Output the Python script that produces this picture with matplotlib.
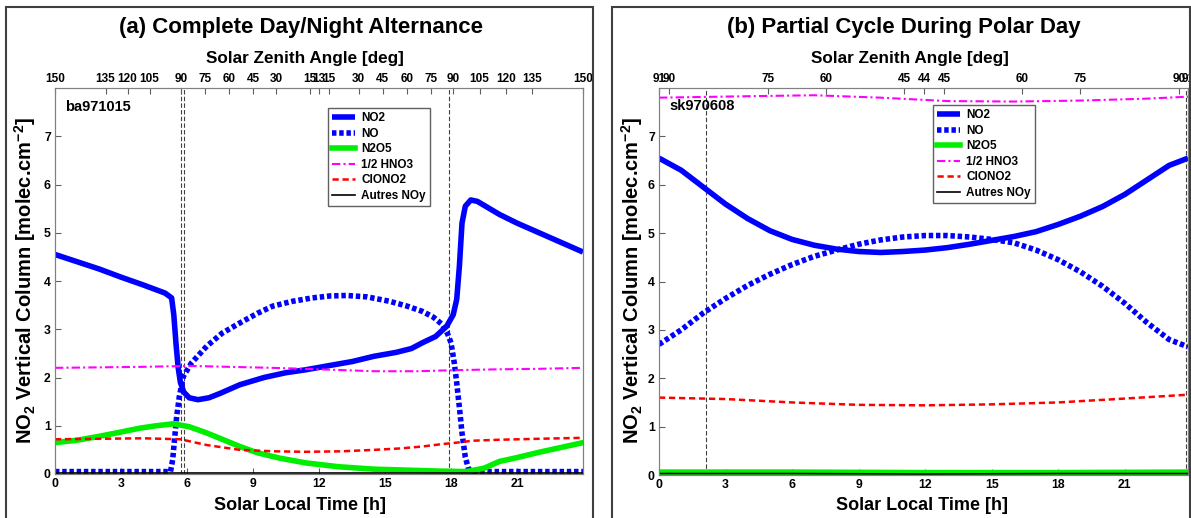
import numpy as np
import matplotlib.pyplot as plt
from matplotlib.patches import Rectangle

plt.rcParams['font.family'] = ['Liberation Sans', 'DejaVu Sans']
plt.rcParams['font.weight'] = 'bold'
plt.rcParams['mathtext.fontset'] = 'custom'
plt.rcParams['mathtext.rm'] = 'Liberation Sans:bold'
plt.rcParams['mathtext.bf'] = 'Liberation Sans:bold'
plt.rcParams['mathtext.default'] = 'bf'

# ---- panel (a) ba971015 : values ----
no2_a_t = [0, 1, 2, 3, 4, 5, 5.3, 5.4, 5.5, 5.6, 5.7, 5.85, 6.1, 6.5, 7.0, 7.5, 8.4, 9.5, 10.5,
           11.4, 12.5, 13.5, 14.5, 15.5, 16.2, 16.7, 17.3, 17.8, 18.1, 18.26, 18.38, 18.5,
           18.65, 18.9, 19.2, 20.2, 21, 22, 23, 24]
no2_a = [4.55, 4.4, 4.25, 4.08, 3.92, 3.75, 3.65, 3.3, 2.7, 2.2, 1.9, 1.7, 1.58, 1.54, 1.58,
         1.67, 1.85, 2.0, 2.1, 2.16, 2.25, 2.33, 2.44, 2.52, 2.6, 2.72, 2.85, 3.06, 3.3, 3.62,
         4.3, 5.2, 5.55, 5.68, 5.65, 5.38, 5.2, 5.0, 4.8, 4.6]
no_a_t = [0, 5.25, 5.35, 5.45, 5.53, 5.65, 5.83, 6.2, 6.9, 7.6, 8.4, 9.2, 9.9, 10.8, 11.7, 12.5,
          13.26, 14.2, 15.2, 16.0, 16.7, 17.2, 17.6, 17.85, 18.0, 18.15, 18.26, 18.4, 18.5,
          18.65, 18.8, 19.0, 24]
no_a = [0.05, 0.05, 0.3, 0.8, 1.19, 1.6, 2.02, 2.3, 2.65, 2.92, 3.13, 3.33, 3.48, 3.58, 3.65,
        3.69, 3.7, 3.67, 3.58, 3.48, 3.37, 3.25, 3.1, 2.9, 2.72, 2.3, 1.89, 1.3, 0.85, 0.35,
        0.1, 0.05, 0.05]
n2o5_a_t = [0, 1, 2, 3, 3.86, 4.6, 5.38, 6.1, 6.9, 7.65, 8.4, 9.2, 10.2, 11.4, 12.9, 14.5, 16,
            17.5, 18.7, 19.5, 20.2, 21, 22, 23, 24]
n2o5_a = [0.65, 0.7, 0.78, 0.87, 0.95, 1.0, 1.04, 0.98, 0.85, 0.71, 0.57, 0.44, 0.33, 0.23,
          0.15, 0.1, 0.08, 0.06, 0.05, 0.12, 0.26, 0.34, 0.45, 0.55, 0.65]
hno3_a_t = [0, 2, 3.86, 5, 6.1, 8, 9.9, 12, 14.5, 16.5, 18, 20.2, 22, 24]
hno3_a = [2.2, 2.21, 2.22, 2.23, 2.24, 2.22, 2.2, 2.17, 2.13, 2.13, 2.15, 2.17, 2.18, 2.2]
clono2_a_t = [0, 2, 4, 5.7, 6.9, 8.4, 10, 11.4, 13, 14.5, 15.7, 16.7, 17.6, 18.26, 19, 20.2, 22, 24]
clono2_a = [0.72, 0.73, 0.74, 0.72, 0.6, 0.5, 0.47, 0.46, 0.47, 0.5, 0.53, 0.57, 0.62, 0.65,
            0.69, 0.71, 0.73, 0.75]
autres_a_t = [0, 6, 12, 18, 24]
autres_a = [0.02, 0.02, 0.02, 0.02, 0.02]
sza_a_pos = [0, 2.3, 3.3, 4.3, 5.72, 6.8, 7.9, 9.0, 10.05, 11.6, 12.0, 12.45, 13.8, 14.9,
             16.0, 17.1, 18.1, 19.3, 20.5, 21.7, 24]
sza_a_lab = ['150', '135', '120', '105', '90', '75', '60', '45', '30', '15', '13', '15', '30',
             '45', '60', '75', '90', '105', '120', '135', '150']
vlines_a = [5.71, 5.88, 17.92]

# ---- panel (b) sk970608 ----
t_b = [0, 1, 2, 3, 4, 5, 6, 7, 8, 9, 10, 11, 12, 13, 14, 15, 16, 17, 18, 19, 20, 21, 22, 23, 23.85]
no2_b = [6.55, 6.3, 5.95, 5.6, 5.3, 5.05, 4.87, 4.75, 4.67, 4.62, 4.6, 4.62, 4.65, 4.7, 4.77,
         4.85, 4.93, 5.03, 5.18, 5.35, 5.55, 5.8, 6.1, 6.4, 6.55]
no_b = [2.7, 3.0, 3.35, 3.65, 3.92, 4.15, 4.35, 4.52, 4.65, 4.77, 4.86, 4.92, 4.95, 4.95, 4.92,
        4.87, 4.8, 4.65, 4.45, 4.2, 3.9, 3.55, 3.15, 2.8, 2.65]
hno3_b_t = [0, 4, 7, 10, 13, 16, 19, 22, 23.85]
hno3_b = [7.8, 7.83, 7.85, 7.8, 7.73, 7.72, 7.74, 7.78, 7.82]
clono2_b_t = [0, 3, 6, 9, 12, 15, 18, 21, 23.85]
clono2_b = [1.6, 1.57, 1.5, 1.45, 1.44, 1.46, 1.5, 1.58, 1.66]
n2o5_b_t = [0, 6, 12, 18, 23.85]
n2o5_b = [0.06, 0.06, 0.05, 0.05, 0.06]
autres_b_t = [0, 6, 12, 18, 23.85]
autres_b = [0.03, 0.03, 0.02, 0.03, 0.03]
sza_b_pos = [0, 0.45, 4.93, 7.55, 11.06, 11.95, 12.85, 16.35, 19.0, 23.45, 23.85]
sza_b_lab = ['91', '90', '75', '60', '45', '44', '45', '60', '75', '90', '91']
vlines_b = [2.14, 23.78]

W, H = 1191, 518
fig = plt.figure(figsize=(W / 100, H / 100), dpi=100)

# panel frames
for x0, x1 in [(6, 593), (612, 1190)]:
    fig.patches.append(Rectangle((x0 / W, -0.05), (x1 - x0) / W, 1.05 - 7 / H,
                                 transform=fig.transFigure, fill=False,
                                 edgecolor='#404040', lw=1.5))


def panel(rect, xmax, series, vlines, sza_pos, sza_lab, tag, tag_y, leg_xy, title, cx_title,
          cx_sza, cx_xlab, x_ylab):
    ax = fig.add_axes([rect[0] / W, 1 - rect[3] / H, (rect[2] - rect[0]) / W,
                       (rect[3] - rect[1]) / H])
    for v in vlines:
        ax.axvline(v, color='#404040', lw=0.8, ls=(0, (4, 2)))
    t, y = series['NO2']
    ax.plot(t, y, color='blue', lw=4, solid_capstyle='butt', label='NO2')
    t, y = series['NO']
    ax.plot(t, y, color='blue', lw=4, ls=(0, (0.8, 0.5)), label='NO')
    t, y = series['N2O5']
    ax.plot(t, y, color='#00ee00', lw=4, label='N2O5')
    t, y = series['HNO3']
    ax.plot(t, y, color='magenta', lw=1.5, ls=(0, (4, 1.5, 1, 1.5)), label='1/2 HNO3')
    t, y = series['ClONO2']
    ax.plot(t, y, color='red', lw=1.8, ls=(0, (2.5, 1.5)), label='ClONO2')
    t, y = series['Autres']
    ax.plot(t, y, color='black', lw=1.2, label='Autres NOy')

    ax.set_xlim(0, xmax)
    ax.set_ylim(0, 8)
    ax.set_xticks(range(0, 22, 3))
    ax.set_yticks(range(0, 8))
    ax.tick_params(direction='in', length=4, labelsize=8.8, pad=3, color='#606060')
    for s in ax.spines.values():
        s.set_color('#808080')
    ax.text(0.45, tag_y, tag, fontsize=10.5, va='center', ha='left')
    ax.legend(loc='upper left', bbox_to_anchor=(leg_xy[0] / W, 1 - leg_xy[1] / H),
              bbox_transform=fig.transFigure, fontsize=8.5, frameon=True, fancybox=False,
              edgecolor='#606060', framealpha=1, handlelength=1.9, handletextpad=0.55,
              labelspacing=0.3, borderpad=0.35, borderaxespad=0)

    ax2 = ax.twiny()
    ax2.set_xlim(0, xmax)
    ax2.set_xticks(sza_pos)
    ax2.set_xticklabels(sza_lab)
    ax2.tick_params(direction='in', length=4, labelsize=8.5, pad=2, color='#606060')
    for s in ax2.spines.values():
        s.set_color('#808080')

    fig.text(cx_title / W, 1 - 27 / H, title, fontsize=16, ha='center', va='center')
    fig.text(cx_sza / W, 1 - 58 / H, 'Solar Zenith Angle [deg]', fontsize=12.3,
             ha='center', va='center')
    fig.text(cx_xlab / W, 1 - 505 / H, 'Solar Local Time [h]', fontsize=13,
             ha='center', va='center')
    fig.text(x_ylab / W, 1 - 280 / H, r'NO$_2$ Vertical Column [molec.cm$^{-2}$]',
             fontsize=14.5, ha='center', va='center', rotation=90)
    return ax


panel((55, 88, 583, 474), 24,
      {'NO2': (no2_a_t, no2_a), 'NO': (no_a_t, no_a), 'N2O5': (n2o5_a_t, n2o5_a),
       'HNO3': (hno3_a_t, hno3_a), 'ClONO2': (clono2_a_t, clono2_a),
       'Autres': (autres_a_t, autres_a)},
      vlines_a, sza_a_pos, sza_a_lab, 'ba971015', 7.6, (328, 108),
      '(a) Complete Day/Night Alternance', 301, 305, 300, 25)

panel((659, 88, 1188, 475), 23.85,
      {'NO2': (t_b, no2_b), 'NO': (t_b, no_b), 'N2O5': (n2o5_b_t, n2o5_b),
       'HNO3': (hno3_b_t, hno3_b), 'ClONO2': (clono2_b_t, clono2_b),
       'Autres': (autres_b_t, autres_b)},
      vlines_b, sza_b_pos, sza_b_lab, 'sk970608', 7.62, (933, 105),
      '(b) Partial Cycle During Polar Day', 904, 910, 922, 632)

fig.savefig('out.png', dpi=100)
